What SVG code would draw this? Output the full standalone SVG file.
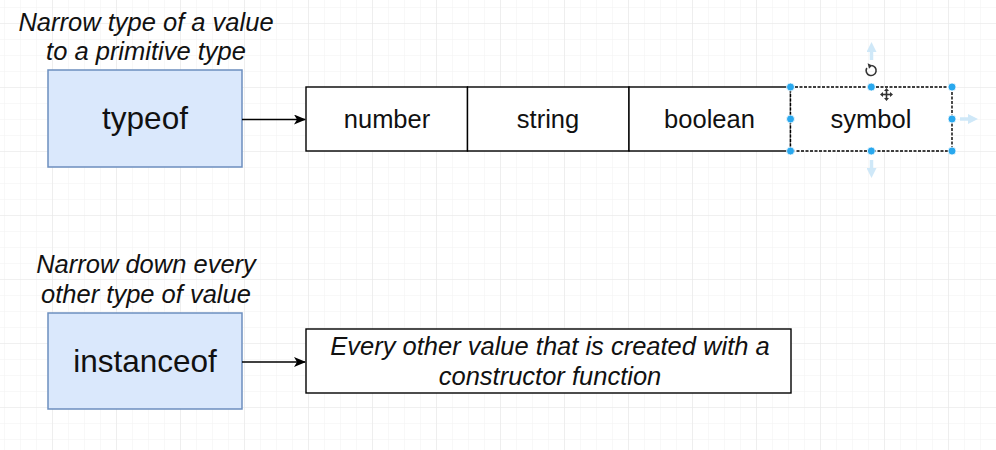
<svg xmlns="http://www.w3.org/2000/svg" width="996" height="450" viewBox="0 0 996 450">
  <defs>
    <pattern id="minor" x="4" y="7" width="16" height="16" patternUnits="userSpaceOnUse">
      <path d="M 0 0 L 16 0 M 0 0 L 0 16" fill="none" stroke="#f1f1f1" stroke-width="1"/>
    </pattern>
    <pattern id="major" x="52" y="23" width="64" height="64" patternUnits="userSpaceOnUse">
      <path d="M 0 0 L 64 0 M 0 0 L 0 64" fill="none" stroke="#e8e8e8" stroke-width="1.2"/>
    </pattern>
    <marker id="arrow" viewBox="0 0 12 10" refX="11" refY="5" markerWidth="12" markerHeight="10" markerUnits="userSpaceOnUse" orient="auto">
      <path d="M 0 0 L 12 5 L 0 10 L 3 5 Z" fill="#000"/>
    </marker>
    <marker id="harrow" viewBox="0 0 10 10" refX="5" refY="5" markerWidth="10" markerHeight="10" markerUnits="userSpaceOnUse" orient="auto">
      <path d="M 0 0 L 10 5 L 0 10 Z" fill="#cfe8f8"/>
    </marker>
  </defs>
  <style>
    .blue { fill: #dae8fc; stroke: #6c8ebf; stroke-width: 1.5; }
    .cell { fill: #ffffff; stroke: #000000; stroke-width: 1.4; }
    .big { font-family: "Liberation Sans", Arial, sans-serif; font-size: 31.5px; fill: #111; text-anchor: middle; }
    .mid { font-family: "Liberation Sans", Arial, sans-serif; font-size: 25.5px; fill: #111; text-anchor: middle; }
    .ital { font-family: "Liberation Sans", Arial, sans-serif; font-size: 25.5px; font-style: italic; fill: #111; text-anchor: middle; }
    .edge { fill: none; stroke: #000; stroke-width: 1.4; }
    .handle { fill: #29a8ee; stroke: #ffffff; stroke-width: 0.8; }
    .hint { fill: none; stroke: #cfe8f8; stroke-width: 3.5; }
  </style>
  <rect width="996" height="450" fill="#ffffff"/>
  <rect width="996" height="450" fill="url(#minor)"/>
  <rect width="996" height="450" fill="url(#major)"/>

  <g id="label-typeof">
    <text class="ital" x="146" y="31">Narrow type of a value</text>
    <text class="ital" x="146" y="60">to a primitive type</text>
  </g>
  <g id="typeof">
    <rect class="blue" x="48" y="70" width="194" height="97"/>
    <text class="big" x="145" y="129">typeof</text>
  </g>

  <g id="number">
    <rect class="cell" x="306" y="87" width="161.5" height="64"/>
    <text class="mid" x="387" y="128">number</text>
  </g>
  <g id="string">
    <rect class="cell" x="467.5" y="87" width="161.5" height="64"/>
    <text class="mid" x="548" y="128">string</text>
  </g>
  <g id="boolean">
    <rect class="cell" x="629" y="87" width="161.5" height="64"/>
    <text class="mid" x="709.5" y="128">boolean</text>
  </g>
  <g id="symbol">
    <rect x="790.5" y="87" width="161.5" height="64" fill="#ffffff" stroke="#000" stroke-width="1.4" stroke-dasharray="3 1.5"/>
    <text class="mid" x="871" y="128">symbol</text>
  </g>

  <g id="selection">
    <line class="hint" x1="871.5" y1="60" x2="871.5" y2="47" marker-end="url(#harrow)"/>
    <line class="hint" x1="871.5" y1="160" x2="871.5" y2="173" marker-end="url(#harrow)"/>
    <line class="hint" x1="960" y1="119" x2="973" y2="119" marker-end="url(#harrow)"/>
    <path d="M 866.8 68 A 5 5 0 1 0 871.5 65.5" fill="none" stroke="#333" stroke-width="1.6"/>
    <path d="M 867.6 63.2 L 872.3 65.5 L 869 68.8 Z" fill="#333"/>
    <circle class="handle" cx="790.5" cy="87" r="4"/>
    <circle class="handle" cx="871.3" cy="87" r="4"/>
    <circle class="handle" cx="952" cy="87" r="4"/>
    <circle class="handle" cx="790.5" cy="119" r="4"/>
    <circle class="handle" cx="952" cy="119" r="4"/>
    <circle class="handle" cx="790.5" cy="151" r="4"/>
    <circle class="handle" cx="871.3" cy="151" r="4"/>
    <circle class="handle" cx="952" cy="151" r="4"/>
    <g transform="translate(886.5 94.5)" fill="#333" stroke="none">
      <rect x="-0.8" y="-4" width="1.6" height="8"/>
      <rect x="-4" y="-0.8" width="8" height="1.6"/>
      <path d="M 0 -6.5 L -2.5 -3.5 L 2.5 -3.5 Z M 0 6.5 L -2.5 3.5 L 2.5 3.5 Z M -6.5 0 L -3.5 -2.5 L -3.5 2.5 Z M 6.5 0 L 3.5 -2.5 L 3.5 2.5 Z"/>
    </g>
  </g>

  <g id="label-instanceof">
    <text class="ital" x="146" y="273">Narrow down every</text>
    <text class="ital" x="146" y="303">other type of value</text>
  </g>
  <g id="instanceof">
    <rect class="blue" x="48" y="313" width="194" height="96"/>
    <text class="big" x="145" y="372">instanceof</text>
  </g>

  <g id="other">
    <rect class="cell" x="306" y="329" width="485" height="64"/>
    <text class="ital" x="550" y="355">Every other value that is created with a</text>
    <text class="ital" x="550" y="385">constructor function</text>
  </g>

  <g id="connectors">
    <line class="edge" x1="242" y1="119.5" x2="305" y2="119.5" marker-end="url(#arrow)"/>
    <line class="edge" x1="242" y1="362" x2="305" y2="362" marker-end="url(#arrow)"/>
  </g>
</svg>
